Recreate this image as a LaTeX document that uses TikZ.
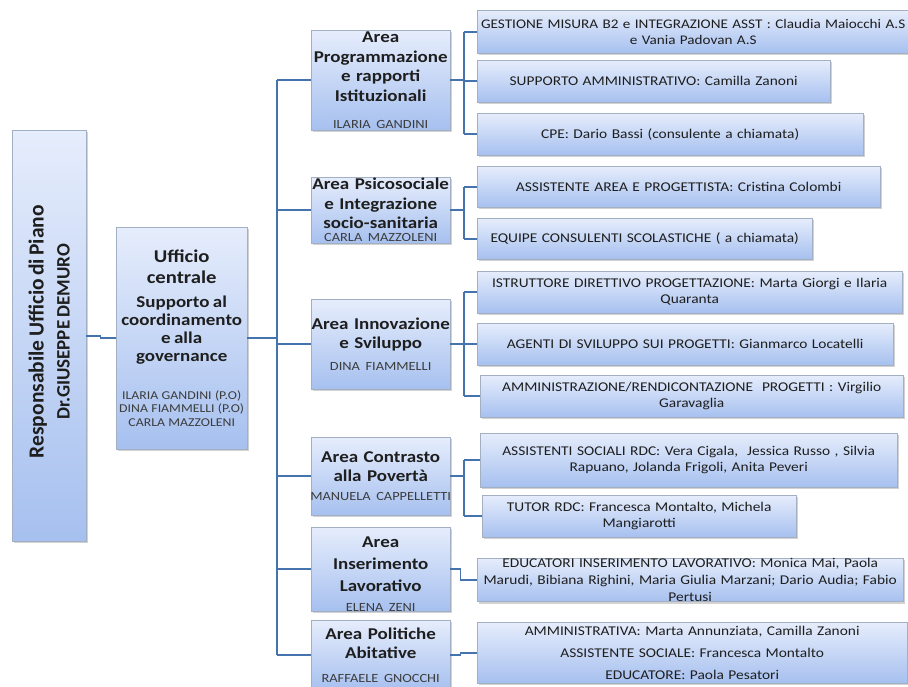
\documentclass[tikz,border=0pt]{standalone}
\usepackage{fontspec}
\setmainfont{Carlito}[FakeStretch=1.15]
\newfontfamily\ruotato{Carlito}
\usepackage{xcolor}
\usepackage{tikz}
\usetikzlibrary{shadows,positioning}

\definecolor{boxtop}{HTML}{E6EDFC}
\definecolor{boxbot}{HTML}{A6C0EF}
\definecolor{boxline}{HTML}{A3B0C4}
\definecolor{linkblue}{HTML}{4573AE}
\definecolor{txt}{HTML}{1E1E1E}
\definecolor{nametxt}{HTML}{3C3C3C}

\tikzstyle{base} = [rectangle, draw=boxline, top color=boxtop, bottom color=boxbot,
    drop shadow={opacity=0.35, shadow xshift=1.5pt, shadow yshift=-2pt},
    inner sep=0pt, align=center, text=txt, anchor=north west]
\tikzstyle{area} = [base, text width=139pt, font=\fontsize{16.5}{19.5}\selectfont\bfseries]
\tikzstyle{compito} = [base, font=\fontsize{13.4}{16}\selectfont]
\tikzstyle{link} = [draw=linkblue, line width=1.6pt]

\newcommand{\nomearea}[2][8pt]{\par\vspace{#1}{\fontsize{12.5}{14}\selectfont\mdseries\color{nametxt}\makebox[\linewidth][c]{#2}\par}}

\begin{document}
\begin{tikzpicture}[x=1pt, y=-1pt]
\path[use as bounding box, fill=white] (0,0) rectangle (908,686);

%Responsabile==============================================
\node (resp) [base, minimum width=74pt, minimum height=411pt] at (12,130) {};
\node (respnome) [rotate=90, text width=411pt, align=center, inner sep=0pt, text=txt] at ([yshift=4pt]resp.center) {
	{\ruotato\fontsize{21.5}{24}\selectfont\bfseries Responsabile Ufficio di Piano\par}
	\vspace{5pt}
	{\ruotato\fontsize{19}{21}\selectfont\bfseries Dr.GIUSEPPE DEMURO\par}
};

%Ufficio centrale==========================================
\node (uff) [base, text width=131pt, minimum height=222pt] at (116,227) {
	{\fontsize{18}{21}\selectfont\bfseries Ufficio\\centrale\par}
	\vspace{6pt}
	{\fontsize{16.5}{18}\selectfont\bfseries Supporto al\\coordinamento\\e alla\\governance\par}
	\vspace{24pt}
	{\fontsize{12}{13.7}\selectfont\color{nametxt}ILARIA GANDINI (P.O)\\DINA FIAMMELLI (P.O)\\CARLA MAZZOLENI\par}
};

%Aree======================================================
\node (prog) [area, minimum height=100pt] at (311,30) {Area\\Programmazione\\e rapporti\\Istituzionali\nomearea[13pt]{ILARIA GANDINI}};
\node (psico) [area, minimum height=66pt] at (311,177) {Area Psicosociale\\e Integrazione\\socio-sanitaria\nomearea[-1pt]{CARLA MAZZOLENI}};
\node (innov) [area, minimum height=90pt] at (311,299) {Area Innovazione\\e Sviluppo\nomearea[8pt]{DINA FIAMMELLI}};
\node (contr) [area, minimum height=78pt] at (311,437) {Area Contrasto\\alla Povert\`a\nomearea[5pt]{MANUELA CAPPELLETTI}};
\node (inser) [area, minimum height=82pt, font=\fontsize{16.5}{22}\selectfont\bfseries] at (311,527) {\rule{0pt}{20pt}Area\\Inserimento\\Lavorativo\nomearea[6pt]{ELENA ZENI}};
\node (polit) [area, minimum height=70pt] at (311,620) {Area Politiche\\Abitative\nomearea[10pt]{RAFFAELE GNOCCHI}};

%Compiti===================================================
\node (gest) [compito, text width=432pt, minimum height=43pt, font=\fontsize{13.2}{16}\selectfont] at (477,10) {GESTIONE MISURA B2 e INTEGRAZIONE ASST : Claudia Maiocchi A.S\\e Vania Padovan A.S};
\node (supp) [compito, text width=353pt, minimum height=42pt] at (477,60) {SUPPORTO AMMINISTRATIVO: Camilla Zanoni};
\node (cpe) [compito, text width=386pt, minimum height=42pt] at (477,113) {CPE: Dario Bassi (consulente a chiamata)};

\node (assar) [compito, text width=403pt, minimum height=41pt] at (477,166) {ASSISTENTE AREA E PROGETTISTA: Cristina Colombi};
\node (equip) [compito, text width=335pt, minimum height=41pt] at (477,218) {EQUIPE CONSULENTI SCOLASTICHE ( a chiamata)};

\node (istr) [compito, text width=425pt, minimum height=42pt] at (477,271) {ISTRUTTORE DIRETTIVO PROGETTAZIONE: Marta Giorgi e Ilaria\\Quaranta};
\node (agen) [compito, text width=416pt, minimum height=42pt] at (477,323) {AGENTI DI SVILUPPO SUI PROGETTI: Gianmarco Locatelli};
\node (ammin) [compito, text width=423pt, minimum height=42pt] at (480,375) {AMMINISTRAZIONE/RENDICONTAZIONE\ \ PROGETTI : Virgilio\\Garavaglia};

\node (asssoc) [compito, text width=417pt, minimum height=54pt] at (480,433) {ASSISTENTI SOCIALI RDC: Vera Cigala,\ \ Jessica Russo , Silvia\\Rapuano, Jolanda Frigoli, Anita Peveri};
\node (tutor) [compito, text width=314pt, minimum height=42pt] at (482,495) {TUTOR RDC: Francesca Montalto, Michela\\Mangiarotti};

\node (educ) [compito, text width=426pt, minimum height=39pt, font=\fontsize{13.4}{17}\selectfont] at (477,558) {EDUCATORI INSERIMENTO LAVORATIVO: Monica Mai, Paola\\Marudi, Bibiana Righini, Maria Giulia Marzani; Dario Audia; Fabio\\Pertusi};

\node (ammtva) [compito, text width=430pt, minimum height=61pt, font=\fontsize{13.4}{22}\selectfont] at (477,622) {AMMINISTRATIVA: Marta Annunziata, Camilla Zanoni\\ASSISTENTE SOCIALE: Francesca Montalto\\EDUCATORE: Paola Pesatori};

%Collegamenti==============================================
\coordinate (bus) at (277,0);
\coordinate (brk) at (464,0);

\draw [link] (resp.east) -- ++(14,0) |- (uff.west);
\draw [link] (uff.east) -- (uff.east -| bus);
\draw [link] (prog.west -| bus) -- (polit.west -| bus);
\foreach \a in {prog,psico,innov,contr,inser,polit}
	\draw [link] (\a.west -| bus) -- (\a.west);

\draw [link] (prog.east) -- (prog.east -| brk);
\draw [link] (gest.west -| brk) -- (cpe.west -| brk);
\foreach \c in {gest,supp,cpe}
	\draw [link] (\c.west -| brk) -- (\c.west);

\draw [link] (psico.east) -- (psico.east -| brk);
\draw [link] (assar.west -| brk) -- (equip.west -| brk);
\foreach \c in {assar,equip}
	\draw [link] (\c.west -| brk) -- (\c.west);

\draw [link] (innov.east) -- (innov.east -| brk);
\draw [link] (istr.west -| brk) -- (ammin.west -| brk);
\foreach \c in {istr,agen,ammin}
	\draw [link] (\c.west -| brk) -- (\c.west);

\draw [link] (contr.east) -- (contr.east -| brk);
\draw [link] (asssoc.west -| brk) -- (tutor.west -| brk);
\foreach \c in {asssoc,tutor}
	\draw [link] (\c.west -| brk) -- (\c.west);

\draw [link] (inser.east) -- ++(10,0) |- (educ.west);
\draw [link] (polit.east) -- ++(10,0) |- (ammtva.west);
\end{tikzpicture}
\end{document}
